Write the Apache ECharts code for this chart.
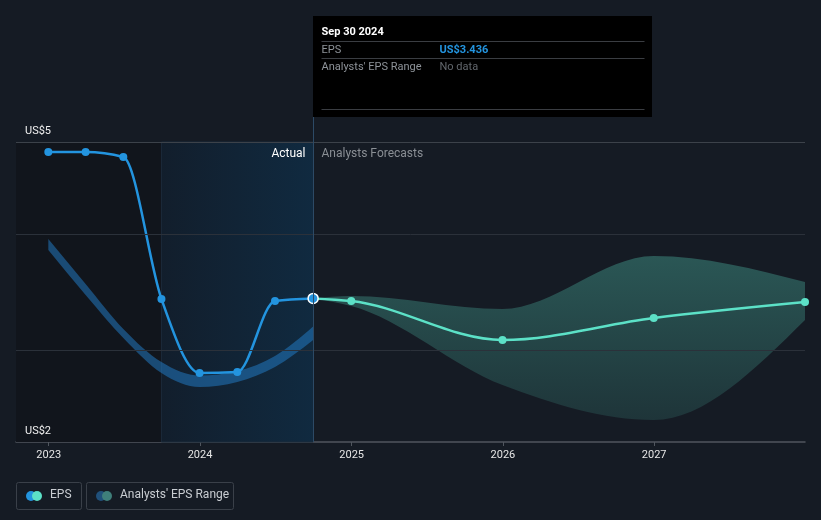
<!DOCTYPE html>
<html><head><meta charset="utf-8">
<script src="https://cdn.jsdelivr.net/npm/echarts@6/dist/echarts.min.js"></script>
<style>html,body{margin:0;padding:0;background:#151b24}#c{width:821px;height:520px}</style>
</head><body><div id="c"></div>
<script>
// ---- data ----
const actualDates = ['2022-12-31', '2023-03-31', '2023-06-30', '2023-09-30', '2023-12-31', '2024-03-31', '2024-06-30', '2024-09-30'];
const epsActual = [4.90, 4.90, 4.85, 3.43, 2.69, 2.70, 3.41, 3.436];
const pastLow = [3.92, 3.47, 3.04, 2.69, 2.55, 2.60, 2.75, 3.02];
const pastHigh = [4.03, 3.58, 3.13, 2.80, 2.665, 2.71, 2.86, 3.155];
const forecastDates = ['2024-09-30', '2024-12-31', '2025-12-31', '2026-12-31', '2027-12-31'];
const epsForecast = [3.436, 3.41, 3.02, 3.24, 3.40];
const forecastLow = [3.436, 3.36, 2.57, 2.22, 3.22];
const forecastHigh = [3.436, 3.46, 3.33, 3.86, 3.60];
const yLabelValues = [2, 5];
const gridValues = [5, 4.08, 2.92];
const xMinDate = '2022-10-14', xMaxDate = '2027-12-31';
const shadeStart = '2023-09-30', divider = '2024-09-30';
const tipDate = 'Sep 30 2024', tipEps = 'US$3.436';

const FONT = 'Roboto, "Noto Sans", sans-serif';
const BLUE = '#2394df', TEAL = '#5ce1c7';
const DAY = 86400000;
const t = s => Date.parse(s + 'T00:00:00Z');
const pair = (xs, ys) => xs.map((x, i) => [t(x), ys[i]]);

// monotone-x cubic (pixel space) -> list of segments
function monoSegs(p) {
  const n = p.length, m = new Array(n), s = [];
  for (let i = 0; i < n - 1; i++) s[i] = (p[i + 1][1] - p[i][1]) / (p[i + 1][0] - p[i][0]);
  const sg = v => v > 0 ? 1 : v < 0 ? -1 : 0;
  for (let i = 1; i < n - 1; i++) {
    const h0 = p[i][0] - p[i - 1][0], h1 = p[i + 1][0] - p[i][0];
    const pp = (s[i - 1] * h1 + s[i] * h0) / (h0 + h1);
    m[i] = (sg(s[i - 1]) + sg(s[i])) * Math.min(Math.abs(s[i - 1]), Math.abs(s[i]), 0.5 * Math.abs(pp)) || 0;
  }
  if (n === 2) { m[0] = m[1] = s[0]; }
  else { m[0] = (3 * s[0] - m[1]) / 2; m[n - 1] = (3 * s[n - 2] - m[n - 2]) / 2; }
  const segs = [];
  for (let i = 0; i < n - 1; i++) {
    const dx = (p[i + 1][0] - p[i][0]) / 3;
    segs.push([p[i], [p[i][0] + dx, p[i][1] + dx * m[i]], [p[i + 1][0] - dx, p[i + 1][1] - dx * m[i + 1]], p[i + 1]]);
  }
  return segs;
}
const f = v => v.toFixed(2);
function linePath(p) {
  const segs = monoSegs(p);
  let d = 'M' + f(p[0][0]) + ' ' + f(p[0][1]);
  segs.forEach(g => { d += ' C' + f(g[1][0]) + ' ' + f(g[1][1]) + ' ' + f(g[2][0]) + ' ' + f(g[2][1]) + ' ' + f(g[3][0]) + ' ' + f(g[3][1]); });
  return d;
}
function bandPath(up, lo) {
  let d = linePath(up);
  const segs = monoSegs(lo).reverse();
  d += ' L' + f(lo[lo.length - 1][0]) + ' ' + f(lo[lo.length - 1][1]);
  segs.forEach(g => { d += ' C' + f(g[2][0]) + ' ' + f(g[2][1]) + ' ' + f(g[1][0]) + ' ' + f(g[1][1]) + ' ' + f(g[0][0]) + ' ' + f(g[0][1]); });
  return d + ' Z';
}

function bandSeries(dates, lows, highs, fill, z) {
  return {
    type: 'custom', silent: true, z, clip: true,
    data: pair(dates, highs),
    renderItem: (params, api) => {
      if (params.dataIndex !== 0) return null;
      const up = dates.map((d, i) => api.coord([t(d), highs[i]]));
      const lo = dates.map((d, i) => api.coord([t(d), lows[i]]));
      return { type: 'path', shape: { pathData: bandPath(up, lo) }, style: { fill, stroke: null } };
    }
  };
}
function curveSeries(dates, vals, color, z) {
  return {
    type: 'custom', silent: true, z, clip: true,
    data: pair(dates, vals),
    renderItem: (params, api) => {
      if (params.dataIndex !== 0) return null;
      const pts = dates.map((d, i) => api.coord([t(d), vals[i]]));
      return { type: 'path', shape: { pathData: linePath(pts) },
        style: { fill: null, stroke: color, lineWidth: 2.5, lineJoin: 'round', lineCap: 'round' } };
    }
  };
}

const chart = echarts.init(document.getElementById('c'), null, { renderer: 'canvas', useUTC: true });
const option = {
  backgroundColor: '#151b24',
  animation: false,
  useUTC: true,
  textStyle: { fontFamily: FONT },
  grid: { left: 16, right: 16, top: 142, bottom: 78 },
  xAxis: {
    type: 'time', min: t(xMinDate), max: t(xMaxDate),
    minInterval: 365 * DAY,
    splitLine: { show: false },
    axisLine: { lineStyle: { color: '#50565e', width: 1.5 } },
    axisTick: { show: true, length: 4, lineStyle: { color: '#50565e' } },
    axisLabel: { color: '#e6e6e6', fontSize: 11, margin: 8, fontFamily: FONT,
      formatter: v => String(new Date(v).getUTCFullYear()) }
  },
  yAxis: {
    type: 'value', min: 2, max: 5,
    splitLine: { show: false },
    axisLine: { show: false }, axisTick: { show: false },
    axisLabel: { show: false }
  },
  series: [
    {
      type: 'line', name: 'bg', data: [], silent: true, z: 1,
      markArea: {
        silent: true,
        data: [
          [{ xAxis: t(xMinDate), itemStyle: { color: '#11151c' } }, { xAxis: t(shadeStart) }],
          [{ xAxis: t(shadeStart), itemStyle: { color: new echarts.graphic.LinearGradient(0, 0, 1, 0, [
              { offset: 0, color: 'rgba(18,30,44,1)' }, { offset: 1, color: 'rgba(16,42,64,1)' }]),
              borderColor: '#1b2a3a', borderWidth: 1 } },
           { xAxis: t(divider) }]
        ]
      },
      markLine: {
        silent: true, symbol: 'none', label: { show: false },
        lineStyle: { color: '#2b313a', width: 1, type: 'solid' },
        data: gridValues.map(v => ({ yAxis: v, lineStyle: v === 5 ? { color: '#3c424a' } : {} }))
      }
    },
    bandSeries(actualDates, pastLow, pastHigh, 'rgba(35,125,200,0.52)', 2),
    bandSeries(forecastDates, forecastLow, forecastHigh, new echarts.graphic.LinearGradient(0, 0, 0, 1, [
        { offset: 0, color: 'rgba(92,225,199,0.30)' }, { offset: 1, color: 'rgba(92,225,199,0.13)' }]), 2),
    curveSeries(forecastDates, epsForecast, TEAL, 3),
    curveSeries(actualDates, epsActual, BLUE, 4),
    { type: 'scatter', name: 'EPS forecast', data: pair(forecastDates, epsForecast).slice(1), symbolSize: 8, z: 5,
      silent: true, itemStyle: { color: TEAL, opacity: 1 } },
    { type: 'scatter', name: 'EPS', z: 6, silent: true, symbolSize: 8, itemStyle: { color: BLUE, opacity: 1 },
      data: pair(actualDates, epsActual).map((p, i, a) => i === a.length - 1
        ? { value: p, symbolSize: 10, itemStyle: { color: BLUE, borderColor: '#fff', borderWidth: 1.5 } } : p) }
  ]
};
chart.setOption(option);

const px = chart.convertToPixel({ gridIndex: 0 }, [t(divider), 2]);
const topPx = chart.convertToPixel({ gridIndex: 0 }, [t(divider), 5]);
const dx = Math.round(px[0]) + 0.5;
const boxW = 339, boxTop = 16, boxBottom = 117;
const gray = '#8e9399';
const yLabels = yLabelValues.map(v => ({
  type: 'text', x: 25, y: chart.convertToPixel({ gridIndex: 0 }, [t(xMinDate), v])[1] - 5,
  style: { text: 'US$' + v, fill: '#f0f0f0', font: '11px ' + FONT, verticalAlign: 'bottom' }, z: 21
}));
chart.setOption({
  graphic: yLabels.concat([
    { type: 'line', silent: true, shape: { x1: dx, y1: boxBottom, x2: dx, y2: px[1] },
      style: { stroke: '#2c4a66', lineWidth: 1 }, z: 10 },
    { type: 'rect', shape: { x: dx - 0.5, y: boxTop, width: boxW, height: boxBottom - boxTop },
      style: { fill: '#000000' }, z: 20 },
    { type: 'text', x: dx + 8, y: 27, style: { text: tipDate, fill: '#ffffff', font: 'bold 11px ' + FONT }, z: 21 },
    { type: 'line', shape: { x1: dx + 8, y1: 41.5, x2: dx + 331, y2: 41.5 }, style: { stroke: '#3a3d42', lineWidth: 1 }, z: 21 },
    { type: 'text', x: dx + 8, y: 45, style: { text: 'EPS', fill: gray, font: '11px ' + FONT }, z: 21 },
    { type: 'text', x: dx + 126, y: 45, style: { text: tipEps, fill: BLUE, font: 'bold 11px ' + FONT }, z: 21 },
    { type: 'line', shape: { x1: dx + 8, y1: 58.5, x2: dx + 331, y2: 58.5 }, style: { stroke: '#3a3d42', lineWidth: 1 }, z: 21 },
    { type: 'text', x: dx + 8, y: 62, style: { text: "Analysts' EPS Range", fill: gray, font: '11px ' + FONT }, z: 21 },
    { type: 'text', x: dx + 126, y: 62, style: { text: 'No data', fill: '#62676d', font: '11px ' + FONT }, z: 21 },
    { type: 'line', shape: { x1: dx + 8, y1: 109.5, x2: dx + 331, y2: 109.5 }, style: { stroke: '#3a3d42', lineWidth: 1 }, z: 21 },
    { type: 'text', x: dx - 8, y: topPx[1] + 6, style: { text: 'Actual', fill: '#ffffff', font: '12px ' + FONT, align: 'right' }, z: 21 },
    { type: 'text', x: dx + 8, y: topPx[1] + 6, style: { text: 'Analysts Forecasts', fill: '#8a8f95', font: '12px ' + FONT }, z: 21 },
    // legend
    { type: 'rect', shape: { x: 16.5, y: 482.5, width: 65, height: 27, r: 2 }, style: { fill: 'none', stroke: '#3a4049', lineWidth: 1 } },
    { type: 'circle', shape: { cx: 31, cy: 496, r: 5 }, style: { fill: BLUE } },
    { type: 'circle', shape: { cx: 37, cy: 496, r: 5 }, style: { fill: TEAL } },
    { type: 'text', x: 50, y: 489, style: { text: 'EPS', fill: '#c9cdd2', font: '12px ' + FONT } },
    { type: 'rect', shape: { x: 86.5, y: 482.5, width: 147, height: 27, r: 2 }, style: { fill: 'none', stroke: '#3a4049', lineWidth: 1 } },
    { type: 'circle', shape: { cx: 101, cy: 496, r: 5 }, style: { fill: '#20507a' } },
    { type: 'circle', shape: { cx: 107, cy: 496, r: 5 }, style: { fill: '#3f7f7a' } },
    { type: 'text', x: 120, y: 489, style: { text: "Analysts' EPS Range", fill: '#c9cdd2', font: '12px ' + FONT } }
  ])
});
</script></body></html>
